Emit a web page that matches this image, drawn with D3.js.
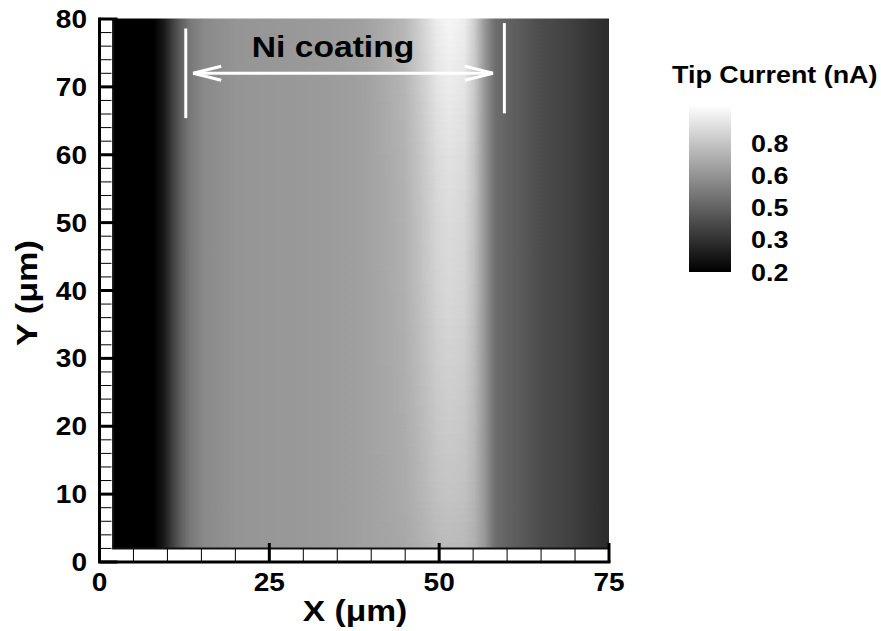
<!DOCTYPE html>
<html lang="en">
<head>
<meta charset="UTF-8">
<title>Tip Current map</title>
<style>
  body { margin: 0; background: #fff; }
  text { font-family: "Liberation Sans", Arial, sans-serif; font-weight: bold; fill: #000; }
</style>
<script src="https://d3js.org/d3.v7.min.js"></script>
</head>
<body>
<svg width="881" height="631"></svg>
<script>
// current profile across the scan (x in um -> tip current in nA)
const profileX = [2, 5, 8, 9.5, 10.7, 12, 13.3, 15.5, 20.4, 25, 30, 35, 39, 42, 44.9, 47.1, 49.8, 51.5, 53.7, 55.2, 56.7, 58.2, 59.7, 62.1, 65.1, 67, 68.9, 71.8, 74.3, 75];
const profileV = [0.15, 0.15, 0.19, 0.28, 0.385, 0.49, 0.567, 0.622, 0.653, 0.66, 0.665, 0.675, 0.69, 0.71, 0.735, 0.78, 0.842, 0.858, 0.842, 0.78, 0.66, 0.536, 0.506, 0.475, 0.43, 0.415, 0.40, 0.368, 0.338, 0.335];
// brightness of the bright band changes a little from bottom to top
const rowY = [2, 10, 20, 30, 40, 50, 60, 70, 80];
const bandGain = [-0.09, -0.06, -0.04, -0.02, 0, 0.01, 0.03, 0.06, 0.09];

const xTicks = [0, 25, 50, 75];
const yTicks = [0, 10, 20, 30, 40, 50, 60, 70, 80];
const legendTicks = [0.2, 0.35, 0.5, 0.65, 0.8];
const legendLabels = ["0.2", "0.3", "0.5", "0.6", "0.8"];

const svg = d3.select("svg");
const x = d3.scaleLinear().domain([0, 75]).range([99.5, 609]);
const y = d3.scaleLinear().domain([0, 80]).range([562, 19]);
const color = d3.scaleLinear().domain([0.2, 0.977]).range(["#000", "#fff"]).clamp(true);
const gainAt = d3.scaleLinear().domain(rowY).range(bandGain);

const defs = svg.append("defs");

// heat map: one horizontal band per micron of y, each filled with a gradient along x
const bands = d3.range(2, 80, 1);
bands.forEach((y0, i) => {
  const g = gainAt(y0 + 0.5);
  const grad = defs.append("linearGradient")
    .attr("id", "row" + i)
    .attr("gradientUnits", "userSpaceOnUse")
    .attr("x1", x(2)).attr("x2", x(75)).attr("y1", 0).attr("y2", 0);
  grad.selectAll("stop")
    .data(profileX)
    .enter().append("stop")
    .attr("offset", d => (d - 2) / 73)
    .attr("stop-color", (d, j) => {
      const v = profileV[j];
      return color(v + g * Math.max(0, v - 0.69) / 0.17);
    });
});

svg.append("g")
  .selectAll("rect")
  .data(bands)
  .enter().append("rect")
  .attr("x", x(2))
  .attr("width", x(75) - x(2))
  .attr("y", d => y(d + 1) - 0.5)
  .attr("height", d => y(d) - y(d + 1) + 1)
  .attr("fill", (d, i) => `url(#row${i})`);

// edges of the data region
svg.append("path")
  .attr("d", `M${x(2)},${y(80)}V${y(2)}H${x(75)}`)
  .attr("fill", "none").attr("stroke", "#111").attr("stroke-width", 2);

// axes (ticks point inward)
const axes = svg.append("g").attr("stroke", "#000").attr("fill", "none");
d3.range(0, 76, 5).forEach(v => {
  const major = xTicks.includes(v);
  axes.append("line")
    .attr("x1", x(v)).attr("x2", x(v))
    .attr("y1", y(0)).attr("y2", y(0) - (major ? 19 : 13))
    .attr("stroke-width", major ? 3 : 1);
});
d3.range(0, 81, 2).forEach(v => {
  const major = yTicks.includes(v);
  axes.append("line")
    .attr("y1", y(v)).attr("y2", y(v))
    .attr("x1", x(0)).attr("x2", x(0) + (major ? 18 : 12))
    .attr("stroke-width", major ? 3 : 1);
});
axes.append("path")
  .attr("d", `M${x(0)},${y(80)}V${y(0)}H${x(75)}`)
  .attr("stroke-width", 3).attr("stroke-linecap", "square");

function wideText(sel, px, py, str, size, anchor) {
  return sel.append("text")
    .attr("transform", `translate(${px},${py}) scale(1.12,1)`)
    .attr("text-anchor", anchor || "middle")
    .attr("font-size", size)
    .text(str);
}

const labels = svg.append("g");
xTicks.forEach(v => wideText(labels, x(v), 591, v, 25));
yTicks.forEach(v => wideText(labels, 87, y(v) + 9, v, 25, "end"));
wideText(labels, 355, 621, "X (μm)", 30);
labels.append("text")
  .attr("transform", "translate(37,293) rotate(-90) scale(1.14,1)")
  .attr("text-anchor", "middle")
  .attr("font-size", 30)
  .text("Y (μm)");

// Ni coating annotation
const ann = svg.append("g").attr("stroke", "#fff").attr("stroke-width", 3).attr("fill", "none");
ann.append("line").attr("x1", x(12.7)).attr("x2", x(12.7)).attr("y1", y(78.6)).attr("y2", y(65.4));
ann.append("line").attr("x1", x(59.6)).attr("x2", x(59.6)).attr("y1", y(79.4)).attr("y2", y(66.1));
const ay = y(72);
const ax0 = x(13.8), ax1 = x(57.9);
ann.append("line").attr("x1", ax0).attr("x2", ax1).attr("y1", ay).attr("y2", ay);
ann.append("path").attr("d", `M${ax0 + 28},${ay - 7}L${ax0},${ay}L${ax0 + 28},${ay + 7}`);
ann.append("path").attr("d", `M${ax1 - 28},${ay - 7}L${ax1},${ay}L${ax1 - 28},${ay + 7}`);
wideText(svg, 333, 57, "Ni coating", 30);

// colour legend
const lg = d3.scaleLinear().domain([0.2, 0.977]).range([272, 105]);
const lgGrad = defs.append("linearGradient")
  .attr("id", "legendGrad")
  .attr("x1", 0).attr("x2", 0).attr("y1", 1).attr("y2", 0);
lgGrad.append("stop").attr("offset", 0).attr("stop-color", color(0.2));
lgGrad.append("stop").attr("offset", 1).attr("stop-color", color(0.977));
svg.append("rect")
  .attr("x", 689).attr("width", 42)
  .attr("y", lg(0.977)).attr("height", lg(0.2) - lg(0.977))
  .attr("fill", "url(#legendGrad)");
legendTicks.forEach((v, i) => wideText(svg, 751, lg(v) + 8.5, legendLabels[i], 24, "start"));
wideText(svg, 672, 83, "Tip Current (nA)", 24, "start");
</script>
</body>
</html>
